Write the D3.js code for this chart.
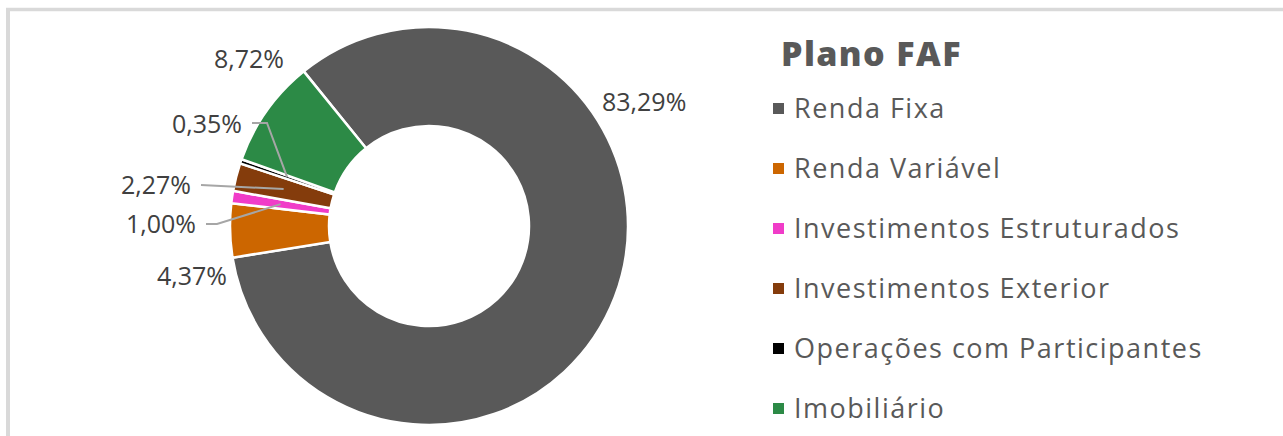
<!DOCTYPE html>
<html>
<head>
<meta charset="utf-8">
<script src="https://cdn.jsdelivr.net/npm/d3@7"></script>
<style>
  body { margin: 0; background: #ffffff; }
  svg { display: block; font-family: "Open Sans", sans-serif; }
</style>
</head>
<body>
<div id="chart"></div>
<script>

// Composição da carteira do plano :
var categories = ["Renda Fixa", "Renda Variável", "Investimentos Estruturados",
                  "Investimentos Exterior", "Operações com Participantes", "Imobiliário"];
var values = [83.29, 4.37, 1.00, 2.27, 0.35, 8.72];
var valueLabels = ["83,29%", "4,37%", "1,00%", "2,27%", "0,35%", "8,72%"];
var colors = ["#595959", "#cc6600", "#f03cc8", "#843c0c", "#000000", "#2c8a46"];
var title = "Plano FAF";

var width = 1283;
var height = 436;

var cx = 429, cy = 226;
var outerR = 199, innerR = 100;

var svg = d3.select("#chart").append("svg")
    .attr("width", width)
    .attr("height", height);

// frame of the chart area (cut off at the right and bottom) :
svg.append("line")
    .attr("x1", 6).attr("y1", 9.5).attr("x2", width).attr("y2", 9.5)
    .style("stroke", "#d9d9d9").style("stroke-width", 3.5);
svg.append("line")
    .attr("x1", 8).attr("y1", 8).attr("x2", 8).attr("y2", height)
    .style("stroke", "#d9d9d9").style("stroke-width", 4);

var pie = d3.pie()
    .sort(null)
    .startAngle(-39 * Math.PI / 180)
    .endAngle((360 - 39) * Math.PI / 180)
    .value(function(d) { return d; });

var arcs = pie(values);

var arc = d3.arc().innerRadius(innerR).outerRadius(outerR);
var midArc = d3.arc().innerRadius(150).outerRadius(150);

var g = svg.append("g").attr("transform", "translate(" + cx + "," + cy + ")");

g.selectAll("path.slice")
    .data(arcs)
    .enter().append("path")
    .attr("class", "slice")
    .attr("d", arc)
    .style("fill", function(d, i) { return colors[i]; })
    .style("stroke", "#ffffff")
    .style("stroke-width", 2.5);

// label placement (offsets from the centre, baseline) and elbow for leader lines :
var labelLayout = [
  { x: 173,  y: -115, anchor: "start" },
  { x: -237, y: 59,   anchor: "middle" },
  { x: -233, y: 7,    anchor: "end", leader: true, elbow: [-212, -2] },
  { x: -238, y: -32,  anchor: "end", leader: true, elbow: null },
  { x: -187, y: -93,  anchor: "end", leader: true, elbow: [-162, -103] },
  { x: -180, y: -158, anchor: "middle" }
];

// leader lines for the small slices :
arcs.forEach(function(d, i) {
  var lay = labelLayout[i];
  if (!lay.leader) return;
  var pts = [[lay.x + 10, lay.elbow ? lay.elbow[1] : lay.y - 9]];
  if (lay.elbow) pts.push(lay.elbow);
  pts.push(midArc.centroid(d));
  g.append("path")
    .attr("d", d3.line()(pts))
    .style("fill", "none")
    .style("stroke", "#a6a6a6")
    .style("stroke-width", 2);
});

g.selectAll("text.value")
    .data(arcs)
    .enter().append("text")
    .attr("class", "value")
    .attr("x", function(d, i) { return labelLayout[i].x; })
    .attr("y", function(d, i) { return labelLayout[i].y; })
    .attr("text-anchor", function(d, i) { return labelLayout[i].anchor; })
    .style("font-size", "25px")
    .style("fill", "#404040")
    .text(function(d, i) { return valueLabels[i]; });

// legend :
svg.append("text")
    .attr("x", 781)
    .attr("y", 66)
    .style("font-size", "34px")
    .style("font-weight", 800)
    .style("letter-spacing", "1.4px")
    .style("fill", "#595959")
    .text(title);

var legend = svg.selectAll("g.legend")
    .data(categories)
    .enter().append("g")
    .attr("class", "legend")
    .attr("transform", function(d, i) { return "translate(773," + (118 + i * 60) + ")"; });

legend.append("rect")
    .attr("x", 0)
    .attr("y", -15)
    .attr("width", 11)
    .attr("height", 11)
    .style("fill", function(d, i) { return colors[i]; });

legend.append("text")
    .attr("x", 21)
    .attr("y", 0)
    .style("font-size", "27px")
    .style("letter-spacing", "1.5px")
    .style("fill", "#595959")
    .text(function(d) { return d; });

</script>
</body>
</html>
